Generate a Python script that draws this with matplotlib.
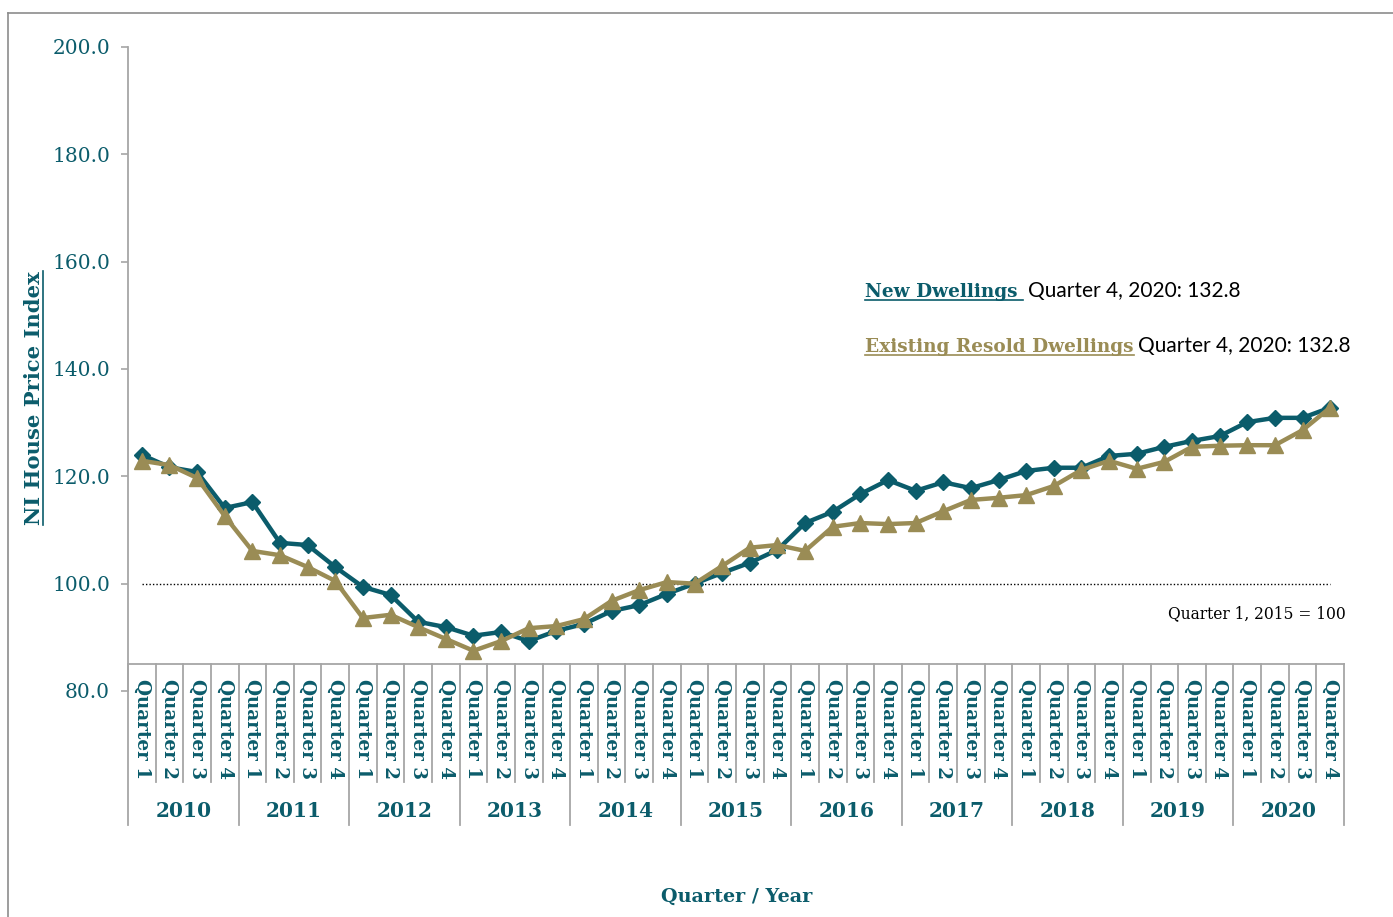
import numpy as np
import matplotlib
matplotlib.use('Agg')
import matplotlib.pyplot as plt
from matplotlib.lines import Line2D
from matplotlib.transforms import blended_transform_factory

# ---- data ----
quarters = ["Quarter 1", "Quarter 2", "Quarter 3", "Quarter 4"]
years = ["2010", "2011", "2012", "2013", "2014", "2015",
         "2016", "2017", "2018", "2019", "2020"]

new_dwellings = [124.0, 121.7, 120.8, 114.1,
                 115.2, 107.6, 107.2, 103.1,
                 99.4, 97.9, 92.9, 91.9,
                 90.3, 91.0, 89.3, 91.2,
                 92.5, 94.9, 96.0, 98.1,
                 100.0, 102.0, 103.9, 106.3,
                 111.3, 113.4, 116.7, 119.3,
                 117.3, 118.9, 117.8, 119.3,
                 121.0, 121.6, 121.6, 123.8,
                 124.2, 125.5, 126.6, 127.5,
                 130.1, 130.9, 130.9, 132.8]

existing_resold = [122.9, 122.1, 119.7, 112.6,
                   106.1, 105.3, 103.1, 100.5,
                   93.6, 94.2, 91.9, 89.7,
                   87.5, 89.3, 91.7, 92.1,
                   93.4, 96.8, 98.8, 100.3,
                   100.0, 103.3, 106.7, 107.2,
                   106.1, 110.6, 111.3, 111.1,
                   111.3, 113.5, 115.6, 116.0,
                   116.5, 118.2, 121.2, 122.9,
                   121.4, 122.7, 125.5, 125.7,
                   125.8, 125.8, 128.6, 132.8]

base_value = 100.0
y_ticks = [80, 100, 120, 140, 160, 180, 200]

TEAL = '#0B5C6B'
GOLD = '#9A8C55'
GRID = '#A6A6A6'
SERIF = 'DejaVu Serif'

W, H = 1393, 917
fig = plt.figure(figsize=(W / 100, H / 100), dpi=100)


def fx(px):
    return px / W


def fy(py):
    return (H - py) / H


# outer chart frame (only left and top edges are visible)
fig.add_artist(Line2D([fx(8), fx(8)], [fy(13), 0], transform=fig.transFigure,
                      color='#8C8C8C', lw=1.2))
fig.add_artist(Line2D([fx(8), 1], [fy(13), fy(13)], transform=fig.transFigure,
                      color='#8C8C8C', lw=1.2))

ax = fig.add_axes([fx(128), fy(691), fx(1344) - fx(128), fy(47) - fy(691)])
n = len(new_dwellings)
x = np.arange(n)

ax.plot(x, new_dwellings, color=TEAL, lw=3.2, marker='D', ms=8.5, zorder=3)
ax.plot(x, existing_resold, color=GOLD, lw=3.2, marker='^', ms=11.5, zorder=4)
ax.plot([x[0], x[-1]], [base_value, base_value], color='black', lw=1,
        linestyle=(0, (1, 1.5)), zorder=2)

ax.set_xlim(-0.5, n - 0.5)
ax.set_ylim(80, 200)
ax.set_yticks(y_ticks)
ax.set_yticklabels([f"{v:.1f}" for v in y_ticks], fontsize=14.5,
                   color=TEAL, family=SERIF)
ax.tick_params(axis='y', direction='out', length=5, width=1.2, color=GRID, pad=8)
ax.set_xticks([])
for s in ['top', 'right', 'bottom']:
    ax.spines[s].set_visible(False)
ax.spines['left'].set_color(GRID)
ax.spines['left'].set_linewidth(1.3)

# category table below the plot (x in data, y in figure pixels)
tr = blended_transform_factory(ax.transData, fig.transFigure)
y_top, y_mid, y_bot = 664, 782, 825
lk = dict(transform=tr, color=GRID, lw=1.3, clip_on=False)
ax.add_line(Line2D([-0.5, n - 0.5], [fy(y_top), fy(y_top)], **lk))
for i in range(n + 1):
    b = i - 0.5
    yb = y_bot if i % 4 == 0 else y_mid
    ax.add_line(Line2D([b, b], [fy(y_top), fy(yb)], **lk))

for i in range(n):
    ax.text(i, fy(679), quarters[i % 4], transform=tr, rotation=-90,
            ha='center', va='top', fontsize=13.2, fontweight='bold',
            color=TEAL, family=SERIF)
for j, yr in enumerate(years):
    ax.text(4 * j + 1.5, fy(811), yr, transform=tr, ha='center', va='center',
            fontsize=14.5, fontweight='bold', color=TEAL, family=SERIF)

fig.text(fx(737), fy(897), "Quarter / Year", ha='center', va='center',
         fontsize=13.8, fontweight='bold', color=TEAL, family=SERIF)

ylab = fig.text(fx(40), fy(398), "NI House Price Index", rotation=90,
                rotation_mode='anchor', ha='center', va='baseline',
                fontsize=15.2, fontweight='bold', color=TEAL, family=SERIF)

fig.text(fx(1346), fy(614), "Quarter 1, 2015 = 100", ha='right',
         va='center', fontsize=11.2, color='black', family=SERIF)

t1 = fig.text(fx(865), fy(297), "New Dwellings", ha='left', va='baseline',
              fontsize=13.3, fontweight='bold', color=TEAL, family=SERIF)
t2 = fig.text(fx(865), fy(352), "Existing Resold Dwellings", ha='left',
              va='baseline', fontsize=13.3, fontweight='bold', color=GOLD,
              family=SERIF)

fig.canvas.draw()
r = fig.canvas.get_renderer()

# underline the y label
bb = ylab.get_window_extent(r)
fig.add_artist(Line2D([fx(43), fx(43)], [bb.y0 / H, bb.y1 / H],
                      transform=fig.transFigure, color=TEAL, lw=1.2))

# legend-style annotations with underlined names
for t, py, col, extra in [(t1, 297, TEAL, 6), (t2, 352, GOLD, 0)]:
    bb = t.get_window_extent(r)
    x_end = bb.x1 + extra
    fig.add_artist(Line2D([bb.x0 / W, x_end / W], [fy(py + 3), fy(py + 3)],
                          transform=fig.transFigure, color=col, lw=1.2))
    fig.text((x_end + 4) / W, fy(py), "Quarter 4, 2020: 132.8", ha='left',
             va='baseline', fontsize=15, color='black', family='Lato')

fig.savefig('out.png', dpi=100)
